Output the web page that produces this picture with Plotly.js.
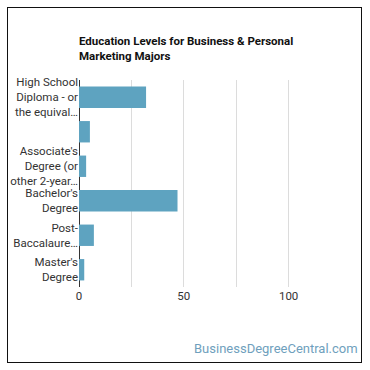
<!DOCTYPE html>
<html><head><meta charset="utf-8">
<script src="https://cdn.plot.ly/plotly-3.0.1.min.js"></script>
<style>
body{margin:0;padding:0;background:#fff;}
#wrap{position:relative;width:370px;height:370px;}
#chart{position:absolute;left:0;top:0;width:370px;height:370px;}
#frame{position:absolute;left:6.5px;top:6.5px;width:353px;height:354px;border:1.5px solid #111;pointer-events:none;}
</style></head>
<body>
<div id="wrap"><div id="chart"></div><div id="frame"></div></div>
<script>
const categories = [
  "High School<br>Diploma - or<br>the equival…",
  " ",
  "Associate's<br>Degree (or<br>other 2-year…",
  "Bachelor's<br>Degree",
  "Post-<br>Baccalaure…",
  "Master's<br>Degree"
];
const values = [32, 5.2, 3.4, 47, 7.1, 2.5];
const tickVals = [0, 25, 50, 75, 100, 125];
const tickText = ["0", "", "50", "", "100", ""];

const trace = {
  type: 'bar',
  orientation: 'h',
  y: categories,
  x: values,
  marker: {color: '#5ea3c0'},
  hoverinfo: 'none'
};
const layout = {
  width: 370, height: 370,
  margin: {l: 79, r: 29, t: 80, b: 83},
  paper_bgcolor: '#fff', plot_bgcolor: '#fff',
  font: {family: 'Roboto, sans-serif', size: 11.5, color: '#333'},
  title: {
    text: '<b>Education Levels for Business & Personal<br>Marketing Majors</b>',
    x: 79/370, xanchor: 'left', y: 0.878, yanchor: 'bottom',
    font: {family: 'Roboto, sans-serif', size: 11.5, color: '#111'}
  },
  bargap: 0.38,
  showlegend: false,
  xaxis: {
    range: [0, 125],
    tickvals: tickVals, ticktext: tickText,
    showgrid: true, gridcolor: '#dcdcdc', gridwidth: 1,
    zeroline: true, zerolinecolor: '#333', zerolinewidth: 1,
    showline: false, ticks: '', fixedrange: true,
    tickfont: {size: 11.5, color: '#333'}
  },
  yaxis: {
    autorange: 'reversed',
    type: 'category',
    showgrid: false, zeroline: false, showline: false,
    ticks: '', ticklen: 0, fixedrange: true,
    tickfont: {size: 11.5, color: '#333'}
  },
  annotations: [{
    text: 'BusinessDegreeCentral.com',
    xref: 'paper', yref: 'paper',
    x: 1.073, y: -0.295, xanchor: 'right', yanchor: 'middle',
    showarrow: false,
    font: {family: 'Roboto, sans-serif', size: 13, color: '#6f9fbd'}
  }]
};
Plotly.newPlot('chart', [trace], layout, {displayModeBar: false, staticPlot: true});
</script>
</body></html>
